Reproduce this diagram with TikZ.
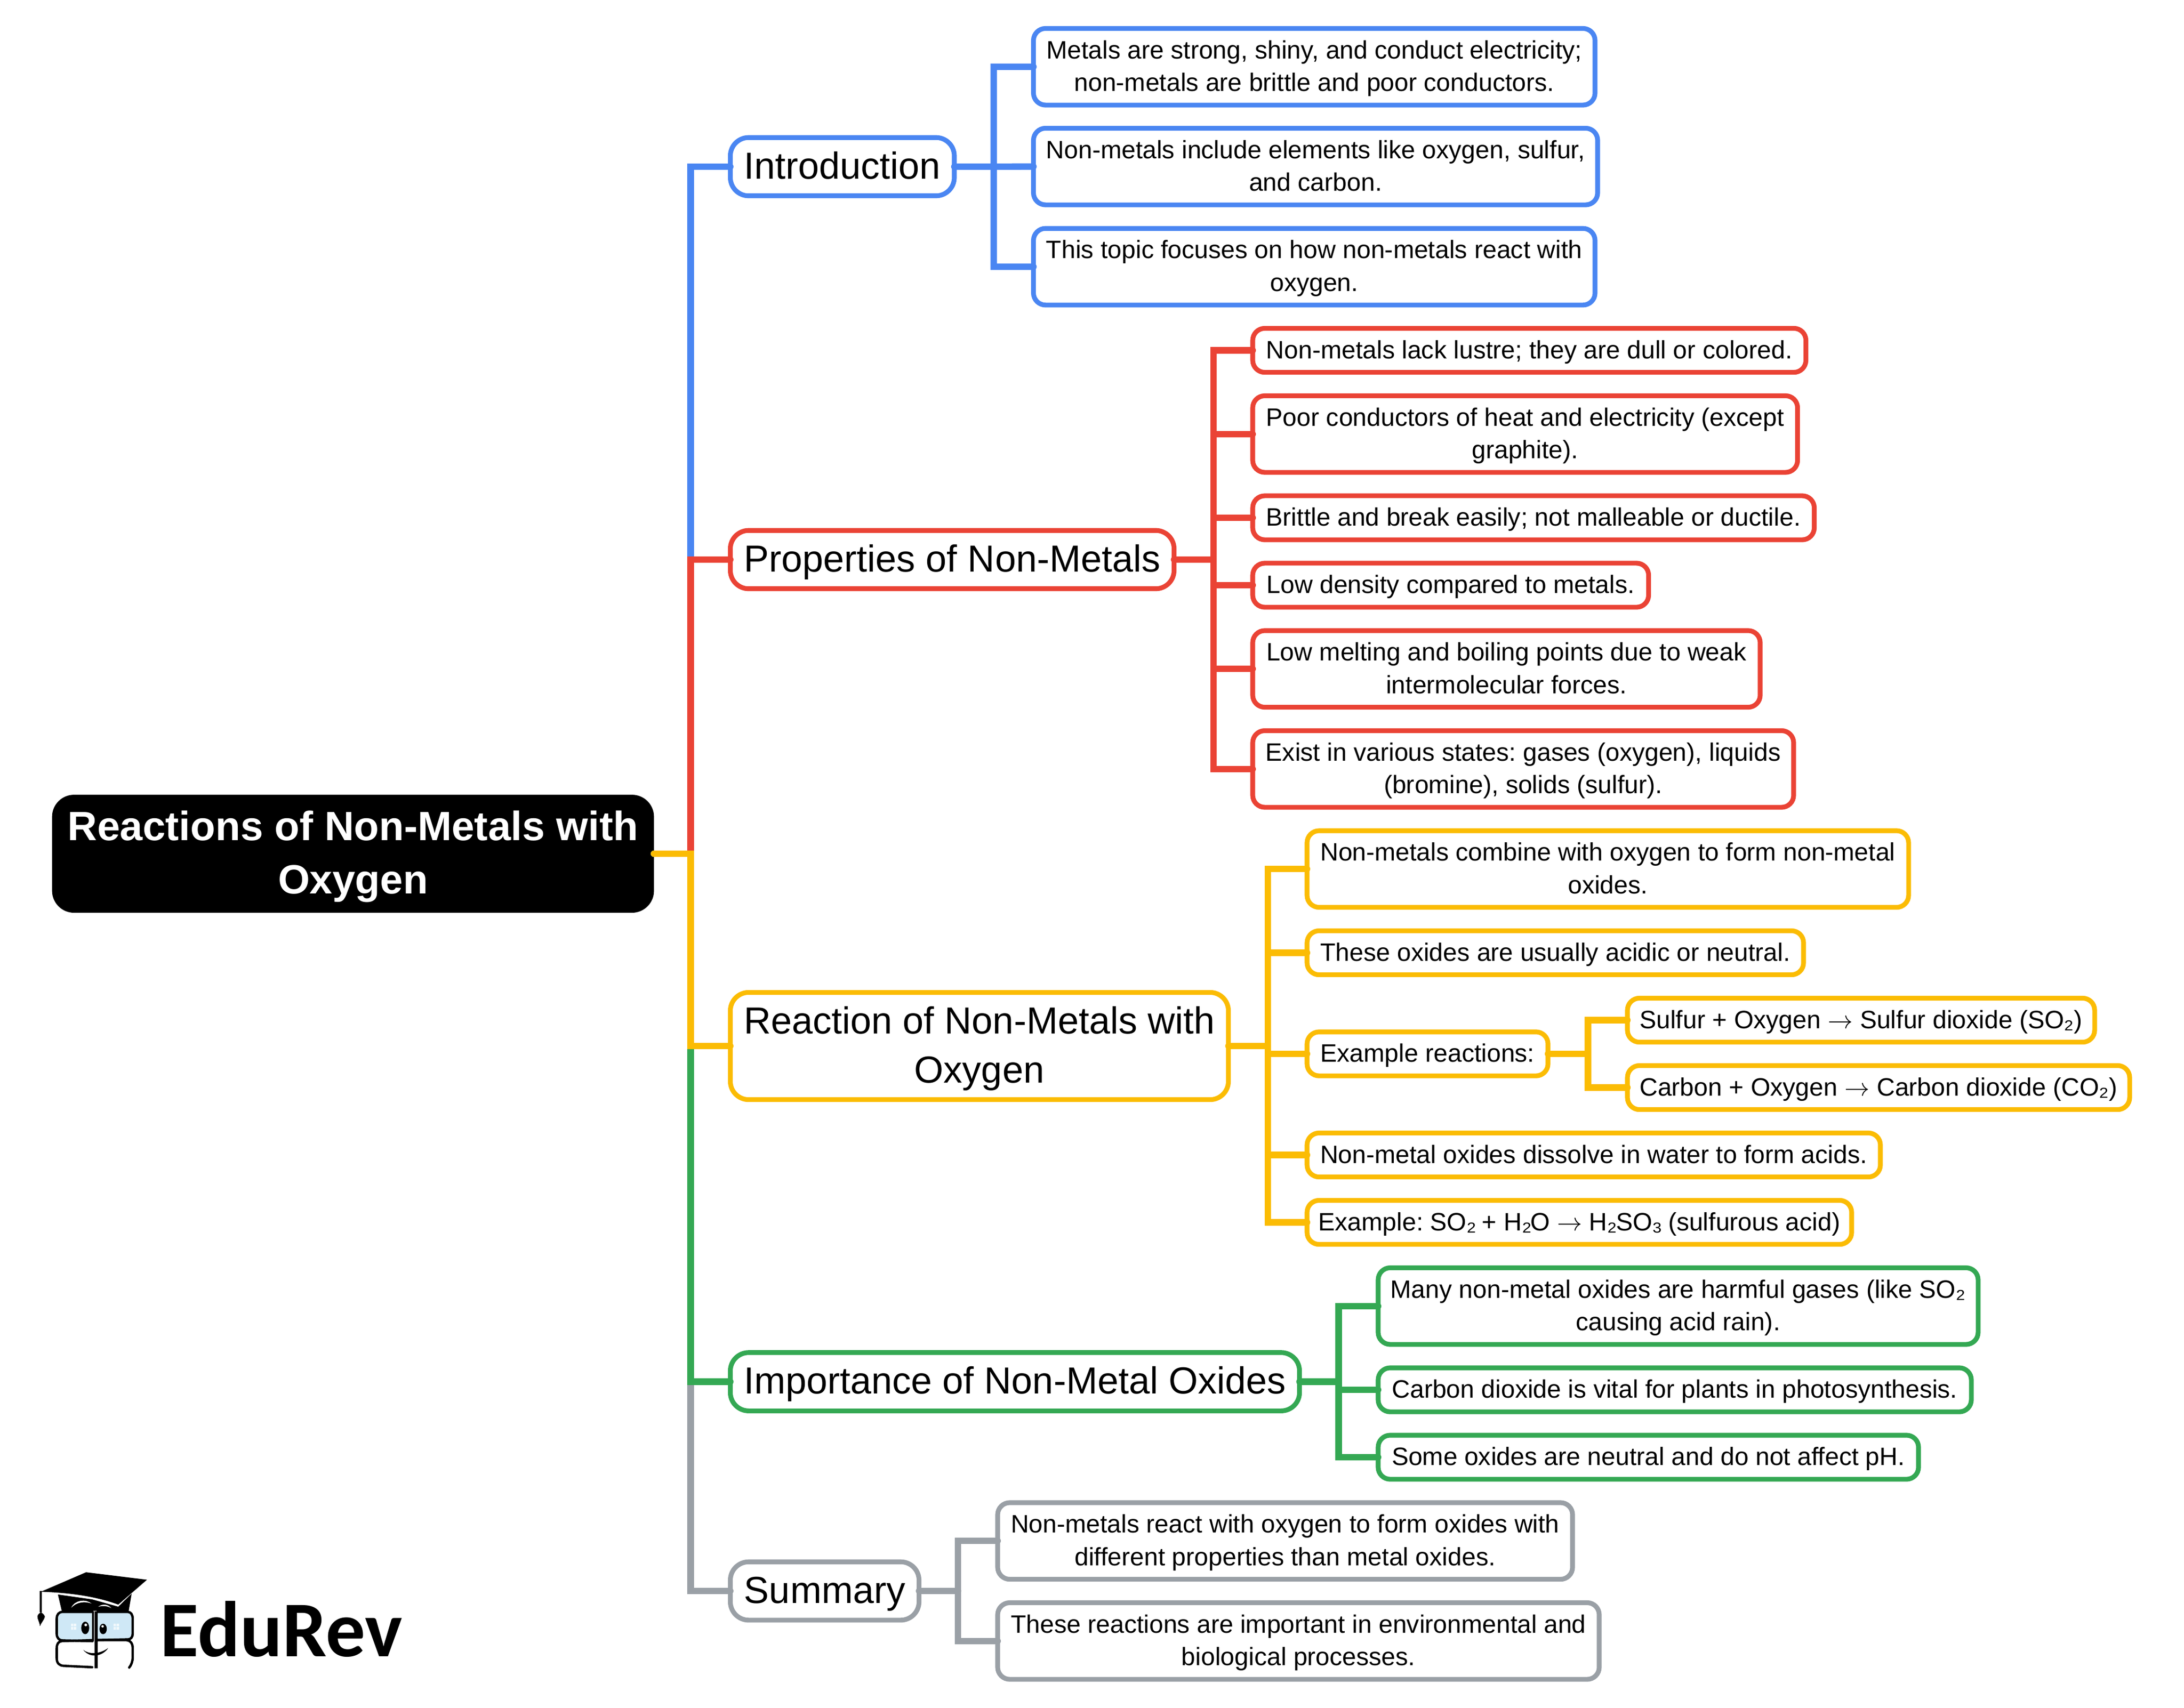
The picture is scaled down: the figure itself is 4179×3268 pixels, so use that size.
\documentclass[tikz,border=0pt]{standalone}
\usepackage{fontspec}
\setmainfont{Liberation Sans}
\newfontfamily\logofont{Carlito}
\newfontfamily\arrfont{Latin Modern Math}
\definecolor{cblue}{HTML}{4A86F2}
\definecolor{cred}{HTML}{EA4335}
\definecolor{cyel}{HTML}{FBBC04}
\definecolor{cgrn}{HTML}{34A853}
\definecolor{cgry}{HTML}{9AA0A6}
\definecolor{lens}{HTML}{CFE8F6}
\newcommand\lst{\rule[-0.25em]{0pt}{1.15em}}
\newcommand\arr{{\arrfont →}}
\newcommand\kn{\kern-0.025cm\relax}
\frenchspacing
\tikzset{
  boxbase/.style={rectangle,outer sep=0pt,inner xsep=0pt,fill=white,align=center,text=black,line width=2.6pt},
  leafbox/.style={boxbase,rounded corners=0.23cm,inner ysep=0.144cm,font=\frenchspacing\fontsize{13.7pt}{17.75pt}\selectfont},
  branchbox/.style={boxbase,rounded corners=0.35cm,inner ysep=0.1435cm,font=\frenchspacing\fontsize{20.49pt}{26.63pt}\selectfont},
  rootbox/.style={rectangle,outer sep=0pt,inner xsep=0pt,inner ysep=0.169cm,fill=black,text=white,align=center,rounded corners=0.42cm,font=\frenchspacing\fontsize{22.25pt}{29.02pt}\selectfont\bfseries},
  cn/.style={line width=3.5pt,miter limit=10,line cap=round},
  logoline/.style={line width=1.3pt,black,line cap=round}
}
\newcommand\boxnode[7]{% style, name, colour, left, right, cy, text
  \pgfmathsetmacro\cxx{(#4+#5)/2}
  \pgfmathsetmacro\wdd{(#5-#4)*0.01}
  \node[#1,draw=#3,minimum width=\wdd cm] (#2) at (\cxx,#6) {#7};}
\begin{document}
\begin{tikzpicture}[x=0.01cm,y=-0.01cm]
\useasboundingbox (0,0) rectangle (4179,3268);
% root
\node[rootbox,minimum width=11.51cm] (root) at (675.5,1634) {\lst Reactions of Non-Metals with\\\lst Oxygen};
% branches
\boxnode{branchbox}{intro}{cblue}{1397.5}{1826}{319}{\lst Introduction}
\boxnode{branchbox}{prop}{cred}{1397.5}{2246.5}{1071}{\lst Properties of Non-Metals}
\boxnode{branchbox}{reac}{cyel}{1397.5}{2350.5}{2002}{\lst Reaction of Non-Metals with\\\lst Oxygen}
\boxnode{branchbox}{impo}{cgrn}{1397.5}{2486.5}{2644.5}{\lst Importance of Non-Metal Oxides}
\boxnode{branchbox}{summ}{cgry}{1397.5}{1758.5}{3045}{\lst Summary}
% introduction leaves
\boxnode{leafbox}{ia}{cblue}{1977.5}{3052}{127.75}{\lst Metals are strong, shiny, and conduct electricity;\\\lst non-metals are brittle and poor conductors.}
\boxnode{leafbox}{ib}{cblue}{1977.5}{3057}{318.75}{\lst Non-metals include elements like oxygen, sulfur,\\\lst and carbon.}
\boxnode{leafbox}{ic}{cblue}{1977.5}{3052}{510.5}{\lst This topic focuses on how non-metals react with\\\lst oxygen.}
% properties leaves
\boxnode{leafbox}{pa}{cred}{2397}{3455.5}{670.5}{\lst Non-metals lack lustre; they are dull or colored.}
\boxnode{leafbox}{pb}{cred}{2397}{3439.5}{830.75}{\lst Poor conductors of heat and electricity (except\\\lst graphite).}
\boxnode{leafbox}{pc}{cred}{2397}{3471.5}{991}{\lst Brittle and break easily; not malleable or ductile.}
\boxnode{leafbox}{pd}{cred}{2397}{3154.5}{1120}{\lst Low density compared to metals.}
\boxnode{leafbox}{pe}{cred}{2397}{3368}{1280.25}{\lst Low melting and boiling points due to weak\\\lst intermolecular forces.}
\boxnode{leafbox}{pf}{cred}{2397}{3432}{1471.75}{\lst Exist in various states: gases (oxygen), liquids\\\lst (bromine), solids (sulfur).}
% reaction leaves
\boxnode{leafbox}{ra}{cyel}{2501}{3652}{1663.25}{\lst Non-metals combine with oxygen to form non-metal\\\lst oxides.}
\boxnode{leafbox}{rb}{cyel}{2501}{3451}{1823.5}{\lst These oxides are usually acidic or neutral.}
\boxnode{leafbox}{rc}{cyel}{2501}{2962}{2017}{\lst Example reactions:}
\boxnode{leafbox}{sa}{cyel}{3114}{4008}{1952.5}{\lst Sulfur + Oxygen \arr{} Sulfur dioxide (SO₂)}
\boxnode{leafbox}{sb}{cyel}{3114}{4075}{2081.5}{\lst Carbon + Oxygen \arr{} Carbon dioxide (CO₂)}
\boxnode{leafbox}{rd}{cyel}{2501}{3598}{2210.5}{\lst Non-metal oxides dissolve in water to form acids.}
\boxnode{leafbox}{re}{cyel}{2501}{3543}{2339.5}{\lst Example: SO₂\kn{} + H₂\kn{}O \arr{} H₂\kn{}SO₃\kn{} (sulfurous acid)}
% importance leaves
\boxnode{leafbox}{ma}{cgrn}{2637}{3785}{2499.75}{\lst Many non-metal oxides are harmful gases (like SO₂\\\lst causing acid rain).}
\boxnode{leafbox}{mb}{cgrn}{2637}{3772}{2660}{\lst Carbon dioxide is vital for plants in photosynthesis.}
\boxnode{leafbox}{mc}{cgrn}{2637}{3671}{2789}{\lst Some oxides are neutral and do not affect pH.}
% summary leaves
\boxnode{leafbox}{ua}{cgry}{1909}{3009}{2949.25}{\lst Non-metals react with oxygen to form oxides with\\\lst different properties than metal oxides.}
\boxnode{leafbox}{ub}{cgry}{1909}{3060}{3140.75}{\lst These reactions are important in environmental and\\\lst biological processes.}
% junctions
\coordinate (tk) at (1321.5,1634);
\coordinate (ti) at (1901.5,319);
\coordinate (tp) at (2321.7,1071);
\coordinate (tr) at (2426,2002);
\coordinate (te) at (3038.5,2017);
\coordinate (tm) at (2561.5,2644.5);
\coordinate (tu) at (1833.3,3045);
% trunk
\draw[cn,cblue] (root.east) -- (tk) |- (intro.west);
\draw[cn,cred] (root.east) -- (tk) |- (prop.west);
\draw[cn,cgry] (root.east) -- (tk) |- (summ.west);
\draw[cn,cgrn] (root.east) -- (tk) |- (impo.west);
\draw[cn,cyel] (root.east) -- (tk) |- (reac.west);
% sub-branches
\draw[cn,cblue] (intro.east) -- (ti) (ti) |- (ia.west) (ti) -- (ib.west) (ti) |- (ic.west);
\draw[cn,cred] (prop.east) -- (tp) (tp) |- (pa.west) (tp) |- (pb.west) (tp) |- (pc.west) (tp) |- (pd.west) (tp) |- (pe.west) (tp) |- (pf.west);
\draw[cn,cyel] (reac.east) -- (tr) (tr) |- (ra.west) (tr) |- (rb.west) (tr) |- (rc.west) (tr) |- (rd.west) (tr) |- (re.west);
\draw[cn,cyel] (rc.east) -- (te) (te) |- (sa.west) (te) |- (sb.west);
\draw[cn,cgrn] (impo.east) -- (tm) (tm) |- (ma.west) (tm) |- (mb.west) (tm) |- (mc.west);
\draw[cn,cgry] (summ.east) -- (tu) (tu) |- (ua.west) (tu) |- (ub.west);
% logo
\node[anchor=base west,inner sep=0pt,font=\logofont\bfseries\fontsize{43pt}{43pt}\selectfont] (brand) at (306,3170) {EduRev};
\begin{scope}[x=0.003333cm,y=-0.003333cm,shift={(150,9000)}]
  % head top under the cap
  \fill[black] (183,170) -- (380,198) -- (530,240) -- (607,165) -- (590,264) -- (205,264) -- cycle;
  \fill[white] (260,246) .. controls (280,200) and (345,195) .. (376,222) .. controls (340,208) and (290,212) .. cycle;
  \fill[white] (415,240) .. controls (440,222) and (470,225) .. (490,248) .. controls (465,234) and (440,234) .. cycle;
  % cap
  \fill[black] (345,42) -- (695,85) -- (530,228) .. controls (400,180) and (250,160) .. (85,154) -- cycle;
  \draw[line width=1.1pt,black] (85,150) -- (85,272);
  \fill[black] (85,272) .. controls (72,280) and (62,290) .. (66,305) .. controls (70,320) and (78,335) .. (80,352) .. controls (85,335) and (105,315) .. (108,298) .. controls (105,285) and (95,278) .. cycle;
  % lenses
  \fill[lens] (380,276) -- (210,276) .. controls (190,276) and (180,290) .. (180,310) -- (180,395) .. controls (180,415) and (190,428) .. (210,428) -- (380,432) -- cycle;
  \fill[lens] (410,276) -- (585,276) .. controls (600,276) and (608,290) .. (608,310) -- (608,395) .. controls (608,410) and (600,422) .. (585,422) -- (410,427) -- cycle;
  \draw[logoline] (382,270) -- (210,270) .. controls (188,270) and (176,285) .. (176,310) -- (176,395) .. controls (176,420) and (190,434) .. (210,434) -- (382,438);
  \draw[logoline] (410,270) -- (585,270) .. controls (602,270) and (613,285) .. (613,310) -- (613,395) .. controls (613,415) and (602,428) .. (585,428) -- (410,432);
  \draw[logoline] (382,432) .. controls (300,436) and (230,436) .. (205,438) .. controls (185,440) and (176,455) .. (176,480) -- (176,535) .. controls (176,565) and (190,578) .. (215,580) -- (380,588);
  \draw[logoline] (410,432) -- (570,432) .. controls (600,432) and (613,450) .. (613,480) -- (613,530) .. controls (613,555) and (605,575) .. (593,590);
  \draw[line width=1.3pt,black] (385,268) -- (385,438);
  \draw[line width=1.6pt,black] (403,268) -- (403,594);
  % eyes
  \fill[black] (340,362) ellipse [x radius=23,y radius=36];
  \fill[white] (343,345) circle [radius=8];
  \fill[black] (443,368) ellipse [x radius=21,y radius=30];
  \fill[white] (440,353) circle [radius=7];
  % window reflections
  \fill[white,opacity=.75] (258,338) rectangle (271,353) (274,338) rectangle (288,353) (258,357) rectangle (271,372) (274,357) rectangle (288,372);
  \fill[white,opacity=.75] (503,338) rectangle (516,353) (520,338) rectangle (535,353) (503,357) rectangle (516,372) (520,357) rectangle (535,372);
  % smile
  \fill[black] (328,488) .. controls (360,515) and (420,515) .. (472,478) .. controls (440,525) and (370,540) .. cycle;
\end{scope}
\end{tikzpicture}
\end{document}
